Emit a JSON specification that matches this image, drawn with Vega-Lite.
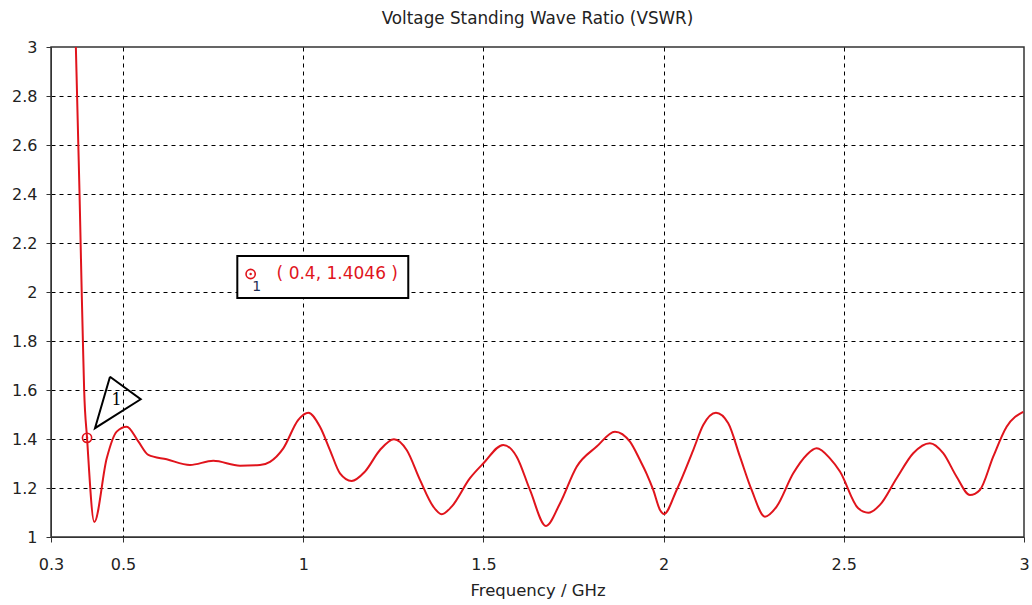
{
  "$schema": "https://vega.github.io/schema/vega-lite/v6.json",
  "width": 973,
  "height": 490,
  "autosize": {"type": "none"},
  "padding": {"left": 51, "top": 47, "right": 8, "bottom": 68},
  "background": "white",
  "title": {
    "text": "Voltage Standing Wave Ratio (VSWR)",
    "font": "DejaVu Sans",
    "fontSize": 16.8,
    "fontWeight": "normal",
    "color": "#222222",
    "anchor": "middle",
    "baseline": "alphabetic",
    "offset": -2
  },
  "config": {
    "view": {"stroke": "#333333", "strokeWidth": 1.5},
    "axis": {
      "labelFont": "DejaVu Sans",
      "labelFontSize": 16,
      "labelColor": "#222222",
      "labelFlush": false,
      "labelOverlap": false,
      "titleFont": "DejaVu Sans",
      "titleFontSize": 16.5,
      "titleFontWeight": "normal",
      "titleColor": "#222222",
      "domainColor": "#333333",
      "tickColor": "#333333",
      "tickSize": 5,
      "gridColor": "#000000",
      "gridDash": [4, 4],
      "gridWidth": 1
    }
  },
  "datasets": {
    "curve": [
      {"f": 0.369, "v": 3.0},
      {"f": 0.3724, "v": 2.8},
      {"f": 0.3758, "v": 2.6},
      {"f": 0.3792, "v": 2.4},
      {"f": 0.3822, "v": 2.2},
      {"f": 0.3852, "v": 2.0},
      {"f": 0.3885, "v": 1.8},
      {"f": 0.392, "v": 1.6},
      {"f": 0.4, "v": 1.4046},
      {"f": 0.4201, "v": 1.061},
      {"f": 0.4545, "v": 1.32},
      {"f": 0.4823, "v": 1.43},
      {"f": 0.51, "v": 1.45},
      {"f": 0.5422, "v": 1.39},
      {"f": 0.57, "v": 1.335},
      {"f": 0.621, "v": 1.317},
      {"f": 0.6857, "v": 1.294},
      {"f": 0.7503, "v": 1.311},
      {"f": 0.8244, "v": 1.291},
      {"f": 0.8799, "v": 1.294},
      {"f": 0.9077, "v": 1.307},
      {"f": 0.9446, "v": 1.362},
      {"f": 0.9862, "v": 1.478},
      {"f": 1.0139, "v": 1.507},
      {"f": 1.0464, "v": 1.45},
      {"f": 1.0741, "v": 1.355},
      {"f": 1.1019, "v": 1.26},
      {"f": 1.1343, "v": 1.229},
      {"f": 1.1712, "v": 1.267},
      {"f": 1.2129, "v": 1.355},
      {"f": 1.2517, "v": 1.399},
      {"f": 1.287, "v": 1.355},
      {"f": 1.3239, "v": 1.233},
      {"f": 1.3608, "v": 1.124},
      {"f": 1.3841, "v": 1.093},
      {"f": 1.4118, "v": 1.124},
      {"f": 1.4626, "v": 1.24},
      {"f": 1.4995, "v": 1.3},
      {"f": 1.555, "v": 1.376},
      {"f": 1.5922, "v": 1.328},
      {"f": 1.6291, "v": 1.192},
      {"f": 1.6735, "v": 1.045},
      {"f": 1.7123, "v": 1.137},
      {"f": 1.7587, "v": 1.287},
      {"f": 1.8142, "v": 1.369},
      {"f": 1.8649, "v": 1.43},
      {"f": 1.9066, "v": 1.389},
      {"f": 1.9343, "v": 1.314},
      {"f": 1.9529, "v": 1.258},
      {"f": 1.9712, "v": 1.192},
      {"f": 1.99, "v": 1.11},
      {"f": 2.0009, "v": 1.094},
      {"f": 2.0361, "v": 1.192},
      {"f": 2.0822, "v": 1.355},
      {"f": 2.1099, "v": 1.457},
      {"f": 2.1452, "v": 1.507},
      {"f": 2.1793, "v": 1.464},
      {"f": 2.2118, "v": 1.328},
      {"f": 2.2442, "v": 1.192},
      {"f": 2.2811, "v": 1.083},
      {"f": 2.3136, "v": 1.124},
      {"f": 2.3597, "v": 1.26},
      {"f": 2.3968, "v": 1.335},
      {"f": 2.4246, "v": 1.362},
      {"f": 2.4615, "v": 1.321},
      {"f": 2.4893, "v": 1.267},
      {"f": 2.54, "v": 1.117},
      {"f": 2.5678, "v": 1.099},
      {"f": 2.6002, "v": 1.131},
      {"f": 2.6466, "v": 1.24},
      {"f": 2.6926, "v": 1.342},
      {"f": 2.7389, "v": 1.383},
      {"f": 2.7758, "v": 1.342},
      {"f": 2.813, "v": 1.246},
      {"f": 2.8499, "v": 1.171},
      {"f": 2.8776, "v": 1.192},
      {"f": 2.9146, "v": 1.328},
      {"f": 2.9518, "v": 1.45},
      {"f": 2.9979, "v": 1.511}
    ],
    "marker": [
      {"f": 0.4, "v": 1.4046},
      {"f": 0.854, "v": 2.0735}
    ],
    "tri": [
      {"o": 1, "f": 0.4637, "v": 1.654},
      {"o": 2, "f": 0.5489, "v": 1.562},
      {"o": 3, "f": 0.4221, "v": 1.444},
      {"o": 4, "f": 0.4637, "v": 1.654}
    ],
    "trilabel": [{"f": 0.482, "v": 1.56, "t": "1"}],
    "box": [{"f": 0.817, "f2": 1.2914, "v": 2.147, "v2": 1.9755}],
    "boxlabel": [{"f": 0.926, "v": 2.0735, "t": "( 0.4, 1.4046 )"}],
    "boxindex": [{"f": 0.871, "v": 2.0204, "t": "1"}]
  },
  "encoding": {
    "x": {
      "field": "f",
      "type": "quantitative",
      "scale": {"domain": [0.3, 3], "nice": false, "zero": false},
      "axis": {
        "title": "Frequency / GHz",
        "values": [0.3, 0.5, 1, 1.5, 2, 2.5, 3],
        "format": ".1~f",
        "labelPadding": 14,
        "titlePadding": 10,
        "grid": true,
        "gridOpacity": {"condition": {"test": "datum.value <= 0.31 || datum.value >= 2.99", "value": 0}, "value": 1}
      }
    },
    "y": {
      "field": "v",
      "type": "quantitative",
      "scale": {"domain": [1, 3], "nice": false, "zero": false},
      "axis": {
        "title": null,
        "values": [1, 1.2, 1.4, 1.6, 1.8, 2, 2.2, 2.4, 2.6, 2.8, 3],
        "format": ".1~f",
        "labelPadding": 9,
        "grid": true,
        "gridOpacity": {"condition": {"test": "datum.value <= 1.01 || datum.value >= 2.99", "value": 0}, "value": 1}
      }
    }
  },
  "layer": [
    {
      "data": {"name": "curve"},
      "mark": {"type": "line", "color": "#e0141c", "strokeWidth": 2, "interpolate": "monotone", "clip": true}
    },
    {
      "data": {"name": "tri"},
      "mark": {"type": "line", "color": "#000000", "strokeWidth": 2, "strokeJoin": "miter"},
      "encoding": {"order": {"field": "o", "type": "quantitative"}}
    },
    {
      "data": {"name": "trilabel"},
      "mark": {"type": "text", "font": "DejaVu Serif", "fontSize": 16, "color": "#000000", "align": "center", "baseline": "middle"},
      "encoding": {"text": {"field": "t"}}
    },
    {
      "data": {"name": "box"},
      "mark": {"type": "rect", "fill": "white", "stroke": "#000000", "strokeWidth": 2},
      "encoding": {"x2": {"field": "f2"}, "y2": {"field": "v2"}}
    },
    {
      "data": {"name": "boxlabel"},
      "mark": {"type": "text", "font": "DejaVu Sans", "fontSize": 17, "color": "#e0141c", "align": "left", "baseline": "middle"},
      "encoding": {"text": {"field": "t"}}
    },
    {
      "data": {"name": "boxindex"},
      "mark": {"type": "text", "font": "DejaVu Sans", "fontSize": 14, "color": "#1f2f55", "align": "center", "baseline": "middle"},
      "encoding": {"text": {"field": "t"}}
    },
    {
      "data": {"name": "marker"},
      "mark": {"type": "point", "shape": "circle", "filled": false, "stroke": "#e0141c", "strokeWidth": 1.6, "size": 85, "opacity": 1}
    },
    {
      "data": {"name": "marker"},
      "mark": {"type": "point", "shape": "circle", "filled": true, "fill": "#e0141c", "size": 6, "opacity": 1}
    }
  ]
}
